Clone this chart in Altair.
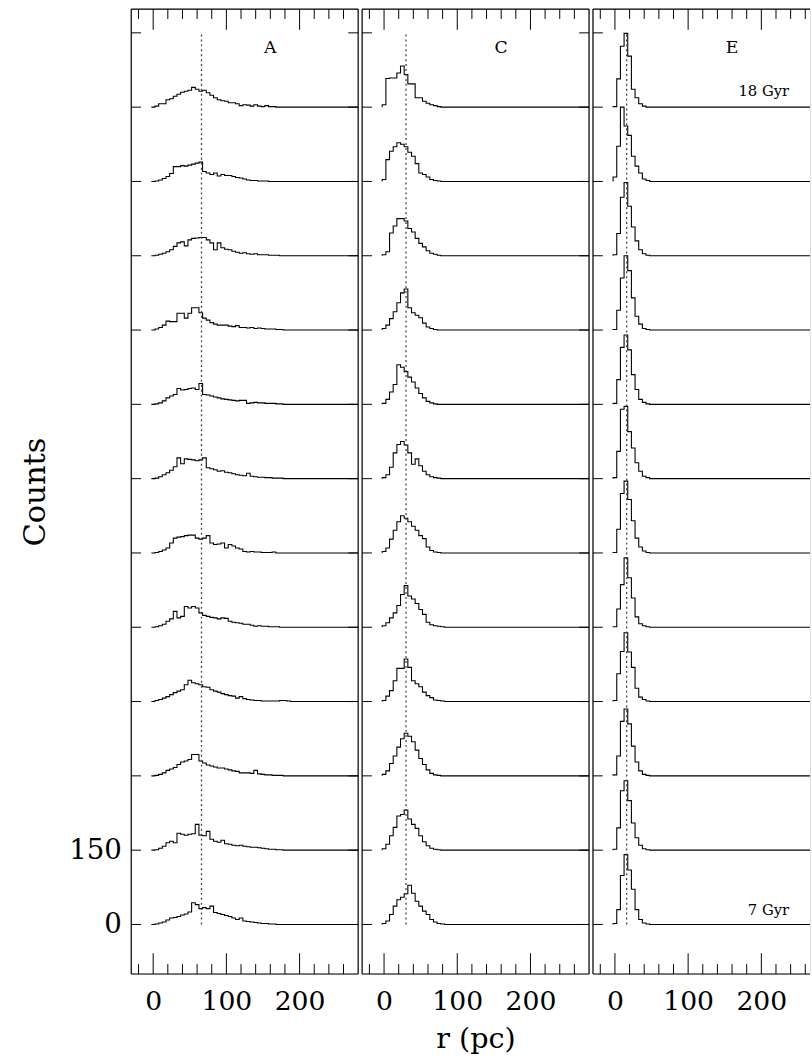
import altair as alt
import pandas as pd

# ---------------- data (counts per 5 pc bin, bins centred at 0,5,10,... pc) ----------------
# histograms listed top (18 Gyr) to bottom (7 Gyr); each is offset by 150 counts
AGES = ["18 Gyr", "17 Gyr", "16 Gyr", "15 Gyr", "14 Gyr", "13 Gyr",
        "12 Gyr", "11 Gyr", "10 Gyr", "9 Gyr", "8 Gyr", "7 Gyr"]

panel_A = [
    [0, 2, 7, 7, 15, 17, 22, 26, 30, 32, 34, 40, 36, 32, 34, 29, 24, 19, 15, 13, 12, 9, 9, 7, 3, 5, 4, 2, 5, 2, 1, 3, 1, 1],
    [0, 1, 3, 6, 10, 16, 30, 30, 32, 31, 33, 35, 37, 39, 20, 17, 14, 17, 11, 14, 12, 12, 10, 8, 7, 5, 3, 2, 2, 1, 1, 1],
    [0, 1, 3, 5, 8, 12, 19, 26, 28, 20, 32, 35, 36, 37, 37, 32, 26, 12, 26, 16, 13, 12, 9, 7, 5, 6, 4, 3, 4, 2, 2, 2, 1, 1, 1],
    [0, 2, 5, 10, 18, 17, 17, 34, 34, 24, 34, 45, 45, 35, 24, 20, 15, 12, 10, 10, 10, 8, 7, 9, 5, 5, 4, 5, 3, 4, 3, 2, 2, 2, 1, 1],
    [0, 1, 3, 7, 13, 17, 20, 32, 29, 30, 32, 33, 30, 42, 20, 19, 17, 15, 13, 11, 10, 9, 8, 7, 8, 8, 2, 3, 4, 3, 3, 2, 2, 2, 1, 1],
    [0, 1, 4, 8, 12, 17, 24, 42, 30, 40, 39, 38, 36, 38, 42, 22, 20, 18, 15, 16, 13, 12, 10, 8, 7, 6, 11, 5, 4, 3, 3, 2, 2, 1, 1, 1],
    [0, 1, 3, 6, 10, 20, 30, 32, 33, 35, 36, 36, 30, 28, 30, 35, 20, 17, 18, 20, 10, 17, 14, 10, 8, 3, 2, 3, 2, 2, 1, 1, 1, 2],
    [0, 1, 3, 6, 12, 17, 32, 19, 22, 42, 39, 42, 39, 29, 24, 22, 20, 19, 17, 19, 18, 12, 10, 9, 8, 6, 6, 4, 2, 3, 2, 2, 1, 1, 1],
    [0, 2, 4, 7, 10, 14, 18, 21, 24, 34, 43, 38, 36, 34, 30, 29, 24, 21, 19, 16, 14, 12, 11, 7, 10, 6, 4, 3, 2, 2, 1, 1, 1, 1, 1, 2, 2, 1],
    [0, 1, 3, 6, 11, 14, 17, 23, 28, 30, 33, 43, 43, 30, 26, 22, 20, 18, 16, 16, 14, 12, 10, 9, 6, 6, 6, 5, 11, 4, 3, 2, 2, 1, 1, 1],
    [0, 1, 4, 8, 15, 18, 15, 34, 32, 30, 32, 33, 52, 30, 29, 38, 22, 18, 16, 20, 13, 12, 10, 9, 10, 8, 7, 6, 6, 5, 4, 3, 2, 2, 1, 1],
    [0, 1, 3, 5, 9, 13, 14, 16, 19, 21, 25, 44, 40, 32, 34, 32, 37, 24, 22, 20, 18, 16, 13, 10, 13, 7, 6, 5, 4, 3, 2, 2, 1, 1],
]

panel_C = [
    [5, 58, 59, 59, 69, 83, 66, 47, 47, 19, 19, 12, 8, 5, 3, 1],
    [4, 44, 61, 70, 78, 75, 70, 59, 51, 36, 17, 14, 9, 4, 2, 1],
    [2, 8, 46, 60, 75, 75, 70, 55, 48, 35, 25, 18, 10, 5, 3, 1],
    [3, 10, 23, 37, 55, 75, 83, 45, 35, 30, 25, 14, 6, 3, 1],
    [2, 10, 25, 40, 80, 75, 66, 55, 45, 33, 22, 13, 6, 3, 1],
    [2, 8, 23, 52, 69, 75, 68, 52, 29, 40, 26, 15, 8, 4, 2, 1],
    [3, 10, 28, 46, 63, 75, 70, 63, 54, 46, 35, 29, 12, 5, 2, 1],
    [3, 9, 19, 29, 44, 66, 84, 63, 57, 48, 36, 26, 10, 5, 3, 2, 1],
    [2, 11, 22, 42, 67, 67, 86, 69, 42, 36, 30, 19, 12, 8, 3, 2, 1],
    [3, 10, 25, 40, 58, 75, 86, 80, 69, 52, 35, 23, 12, 5, 2, 1],
    [3, 12, 29, 46, 69, 72, 81, 63, 52, 44, 29, 17, 9, 4, 2, 1],
    [2, 7, 20, 37, 50, 55, 62, 79, 63, 47, 37, 27, 20, 10, 5, 2, 1],
]

panel_E = [
    [1, 57, 123, 149, 103, 36, 19, 7, 2],
    [9, 71, 150, 112, 93, 51, 31, 17, 5, 2],
    [2, 45, 118, 148, 100, 58, 30, 12, 4, 1],
    [1, 40, 105, 150, 120, 65, 28, 12, 3, 1],
    [2, 50, 115, 140, 110, 60, 30, 10, 4, 1],
    [2, 55, 140, 146, 95, 62, 32, 15, 5, 2],
    [1, 48, 120, 145, 108, 65, 30, 12, 4, 1],
    [1, 37, 86, 140, 100, 59, 21, 7, 3, 1],
    [2, 56, 101, 139, 100, 69, 27, 9, 4, 1],
    [2, 40, 110, 135, 105, 60, 28, 10, 3, 1],
    [2, 45, 120, 140, 100, 55, 25, 10, 3, 1],
    [2, 30, 99, 141, 110, 71, 30, 10, 3, 1],
]

PANEL_LETTERS = ["A", "C", "E"]
DOTTED_R = [66, 30, 16]          # vertical dotted reference radius per panel (pc)
DOTTED_SPAN = [0, 1800]          # counts spanned by the dotted line
BIN_WIDTH = 5
FIRST_EDGE = -2.5
OFFSET_STEP = 150
X_LABELS = [0, 100, 200]
X_MAJOR = [0, 100, 200]
X_MINOR = [-20, 20, 40, 60, 80, 120, 140, 160, 180, 220, 240, 260]
Y_LABELS = [0, 150]
Y_TICKS = [0, 150, 300, 450, 600, 750, 900, 1050, 1200, 1350, 1500, 1650, 1800]
LETTER_POS = (160, 1769)         # (r, counts) of panel letter
AGE_TEXT = ["18 Gyr", "7 Gyr"]
AGE_POS_R = 238
AGE_POS_Y = [1672, 20]

R_MIN, R_MAX, R_MAX_E = -30, 280, 266.5
Y_MIN, Y_MAX = -100, 1848
W, W_E, H = 230, 220, 978
FONT = "DejaVu Serif"


def hist_frame(hists):
    rows = []
    n = len(hists)
    for k, counts in enumerate(hists):
        base = OFFSET_STEP * (n - 1 - k)
        pts = [(FIRST_EDGE, base)]
        for i, c in enumerate(counts):
            pts.append((FIRST_EDGE + i * BIN_WIDTH, base + c))
        pts.append((FIRST_EDGE + len(counts) * BIN_WIDTH, base))
        pts.append((R_MAX, base))
        for j, (r, y) in enumerate(pts):
            rows.append({"hist": k, "step": j, "r": r, "y": y})
    return pd.DataFrame(rows)


def build_panel(idx, hists):
    first = idx == 0
    middle = idx == 1
    last = idx == 2
    width = W_E if last else W
    xs = alt.Scale(domain=[R_MIN, R_MAX_E if last else R_MAX], nice=False, zero=False)
    ys = alt.Scale(domain=[Y_MIN, Y_MAX], nice=False, zero=False)

    x_axis = alt.Axis(values=X_LABELS, ticks=False, tickSize=0, domain=False, grid=False,
                      labelFontSize=27, labelPadding=15, labelOverlap=False,
                      labelFlush=False, titleFontSize=29, titleFontWeight="normal",
                      titlePadding=11)
    if first:
        y_axis = alt.Axis(values=Y_LABELS, ticks=False, tickSize=0, domain=False, grid=False,
                          labelFontSize=28, labelPadding=10, labelOverlap=False,
                          labelFlush=False, titleFontSize=31, titleFontWeight="normal",
                          titlePadding=17)
    else:
        y_axis = None

    hist = alt.Chart(hist_frame(hists)).mark_line(
        interpolate="step-after", color="black", strokeWidth=1.1, clip=True
    ).encode(
        x=alt.X("r:Q", scale=xs, axis=x_axis, title="r (pc)" if middle else None),
        y=alt.Y("y:Q", scale=ys, axis=y_axis, title="Counts" if first else None),
        detail="hist:N",
        order="step:Q",
    )

    # other layers share the scales; no axis settings of their own (so the hist axis wins)
    dotted = alt.Chart(pd.DataFrame({"r": [DOTTED_R[idx]], "y": [DOTTED_SPAN[0]],
                                     "y1": [DOTTED_SPAN[1]]})).mark_rule(
        color="#444444", strokeWidth=1.3, strokeDash=[2, 3]
    ).encode(x=alt.X("r:Q"), y=alt.Y("y:Q"), y2="y1:Q")

    major = pd.DataFrame({"r": X_MAJOR})
    minor = pd.DataFrame({"r": [t for t in X_MINOR if t < (R_MAX_E if last else R_MAX)]})
    xt = alt.X("r:Q")
    top_major = alt.Chart(major).mark_rule(color="black", strokeWidth=1).encode(
        x=xt, y=alt.value(0), y2=alt.value(21))
    top_minor = alt.Chart(minor).mark_rule(color="black", strokeWidth=1).encode(
        x=xt, y=alt.value(0), y2=alt.value(10))
    bot_major = alt.Chart(major).mark_rule(color="black", strokeWidth=1).encode(
        x=xt, y=alt.value(H), y2=alt.value(H - 21))
    bot_minor = alt.Chart(minor).mark_rule(color="black", strokeWidth=1).encode(
        x=xt, y=alt.value(H), y2=alt.value(H - 10))

    yt_df = pd.DataFrame({"y": Y_TICKS})
    yt = alt.Y("y:Q")
    left_ticks = alt.Chart(yt_df).mark_rule(color="black", strokeWidth=1).encode(
        y=yt, x=alt.value(0), x2=alt.value(10))
    layers = [hist, dotted, top_major, top_minor, bot_major, bot_minor, left_ticks]
    if not last:
        right_ticks = alt.Chart(yt_df).mark_rule(color="black", strokeWidth=1).encode(
            y=yt, x=alt.value(width - 10), x2=alt.value(width))
        layers.append(right_ticks)

    one = pd.DataFrame({"k": [0]})
    frame_w = 1.2
    layers.append(alt.Chart(one).mark_rule(color="black", strokeWidth=frame_w).encode(
        x=alt.value(0), x2=alt.value(width), y=alt.value(0)))
    layers.append(alt.Chart(one).mark_rule(color="black", strokeWidth=frame_w).encode(
        x=alt.value(0), x2=alt.value(width), y=alt.value(H)))
    layers.append(alt.Chart(one).mark_rule(color="black", strokeWidth=frame_w).encode(
        x=alt.value(0), y=alt.value(0), y2=alt.value(H)))
    if not last:
        layers.append(alt.Chart(one).mark_rule(color="black", strokeWidth=frame_w).encode(
            x=alt.value(width), y=alt.value(0), y2=alt.value(H)))

    letter = alt.Chart(pd.DataFrame({"r": [LETTER_POS[0]], "y": [LETTER_POS[1]],
                                     "t": [PANEL_LETTERS[idx]]})).mark_text(
        font=FONT, fontSize=17.5, color="black", align="center", baseline="middle"
    ).encode(x=alt.X("r:Q"), y=alt.Y("y:Q"), text="t:N")
    layers.append(letter)

    if last:
        ages = alt.Chart(pd.DataFrame({"r": [AGE_POS_R] * 2, "y": AGE_POS_Y, "t": AGE_TEXT})).mark_text(
            font=FONT, fontSize=15, color="black", align="right", baseline="alphabetic"
        ).encode(x=alt.X("r:Q"), y=alt.Y("y:Q"), text="t:N")
        layers.append(ages)

    return alt.layer(*layers).properties(width=width, height=H)


panels = [build_panel(i, h) for i, h in enumerate([panel_A, panel_C, panel_E])]

chart = alt.hconcat(*panels, spacing=0).properties(
    padding={"left": 20, "top": 0, "right": 0, "bottom": 0}
).configure_view(stroke=None).configure_axis(
    labelFont=FONT, titleFont=FONT, labelColor="black", titleColor="black"
).configure(font=FONT, background="white")

chart.save("out.html", embed_options={"renderer": "svg", "actions": False})
